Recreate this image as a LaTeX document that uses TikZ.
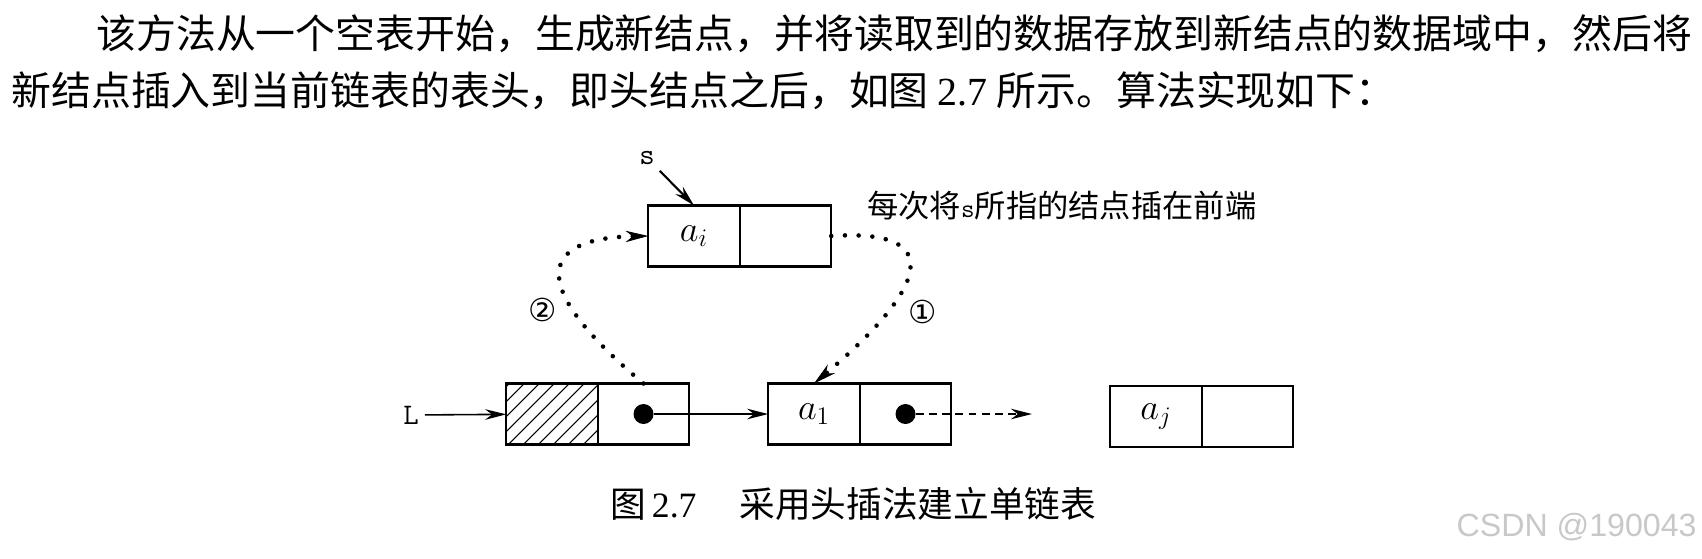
\documentclass[tikz,border=0pt]{standalone}
\usepackage{fontspec}
\usepackage{amsmath}
\usepackage{tikz}
\usetikzlibrary{arrows.meta,positioning,calc}
\setmainfont{Liberation Serif}
\newfontfamily\cjk{Noto Sans CJK SC}
\newfontfamily\symfont{DejaVu Sans}
\newfontfamily\wmfont{Liberation Sans}
\definecolor{markgray}{HTML}{C8C8C8}

\begin{document}
\begin{tikzpicture}[
  cell/.style={draw,line width=1.2pt,minimum width=1.83cm,minimum height=1.22cm,
               inner sep=0pt,outer sep=0pt,font=\fontsize{20}{22}\selectfont},
  ptr/.style={circle,fill,inner sep=0pt,minimum size=0.4cm},
  arr/.style={-{Stealth[length=12pt,width=6pt]},line width=0.9pt},
  dotarr/.style={-{Stealth[length=13pt,width=6.5pt,line width=0.4pt]},line width=2.6pt,
                 line cap=round,dash pattern=on 0pt off 7.8pt},
  hatch/.style={line width=0.6pt},
  lbl/.style={font=\fontsize{17}{19}\selectfont\ttfamily},
  para/.style={anchor=west,inner sep=0pt,font=\fontsize{22.7}{28}\selectfont\cjk},
  numlbl/.style={font=\fontsize{18}{20}\selectfont\symfont}
]
  \useasboundingbox (0,0) rectangle (34.04,-11.16);

  % Text above the figure
  \node[para] (line1) at (1.92,-0.67) {该方法从一个空表开始，生成新结点，并将读取到的数据存放到新结点的数据域中，然后将};
  \node[para] (line2) at (0.22,-1.81) {新结点插入到当前链表的表头，即头结点之后，如图 {\rmfamily 2.7} 所示。算法实现如下：};

  % New node s
  \node[cell] (ai-data) at (13.88,-4.72) {$a_i$};
  \node[cell,right=0pt of ai-data] (ai-next) {};
  \node[lbl] (lbl-s) at (12.94,-3.16) {s};
  \node[anchor=west,inner sep=0pt,font=\fontsize{17.8}{20}\selectfont\cjk] (note) at (17.34,-4.12)
    {每次将{\fontsize{15}{17}\selectfont\ttfamily s}所指的结点插在前端};

  % List
  \node[cell] (head-data) at (11.04,-8.28) {};
  \node[cell,right=0pt of head-data] (head-next) {};
  \node[cell] (a1-data) at (16.28,-8.28) {$a_1$};
  \node[cell,right=0pt of a1-data] (a1-next) {};
  \node[cell] (aj-data) at (23.12,-8.33) {$a_j$};
  \node[cell,right=0pt of aj-data] (aj-next) {};
  \node[lbl] (lbl-L) at (8.22,-8.3) {L};

  % Head node hatching
  \begin{scope}
    \clip (head-data.south west) rectangle (head-data.north east);
    \foreach \k in {-5,...,6}
      \draw[hatch] ($(head-data.south west)+(0.04+\k*0.3,0)$) -- ++(1.4,1.4);
  \end{scope}

  % Pointers
  \node[ptr] (head-dot) at (head-next.center) {};
  \node[ptr] (a1-dot) at (a1-next.center) {};
  \coordinate (a1-gap) at (20.64,-8.28);

  \draw[arr] (lbl-L) -- (head-data);
  \draw[arr,line width=1.2pt] (lbl-s) -- (ai-data.north);
  \draw[arr] (head-dot) -- (a1-data);
  \draw[arr,line width=1.2pt,dash pattern=on 4.5pt off 3pt] (a1-dot) -- (a1-gap);

  % Insertion steps
  \draw[dotarr] (ai-next.east) .. controls (19.0,-4.56) and (18.5,-5.8) .. (a1-data.north);
  \draw[dotarr] (head-next.north) .. controls (10.4,-5.6) and (10.9,-4.76) .. (ai-data.west);
  \node[numlbl] (step1) at (18.46,-6.24) {①};
  \node[numlbl] (step2) at (10.86,-6.2) {②};

  % Caption and mark
  \node[anchor=west,inner sep=0pt,font=\fontsize{20.3}{24}\selectfont] (caption) at (12.2,-10.08)
    {{\cjk 图}\,2.7\hspace{1.2em}{\cjk 采用头插法建立单链表}};
  \node[anchor=east,inner sep=0pt,font=\fontsize{18.3}{20}\selectfont\wmfont,text=markgray] (mark)
    at (33.94,-10.54) {CSDN @190043};
\end{tikzpicture}
\end{document}
